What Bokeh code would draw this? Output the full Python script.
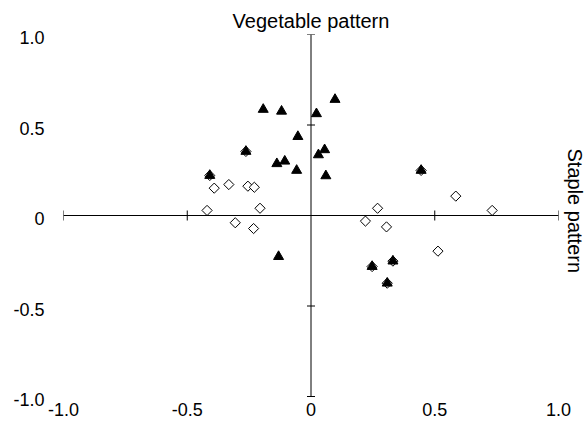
import math
from bokeh.plotting import figure
from bokeh.models import Range1d, FixedTicker, Span, Title, LinearAxis
from bokeh.embed import file_html
from bokeh.resources import INLINE

# Filled triangles (series 1)
tri_x = [-0.409, -0.263, -0.193, -0.119, 0.022, 0.097, -0.053, -0.138, -0.106,
         -0.058, 0.030, 0.055, 0.060, -0.131, 0.445, 0.247, 0.331, 0.308]
tri_y = [0.221, 0.354, 0.586, 0.576, 0.562, 0.641, 0.436, 0.286, 0.300,
         0.249, 0.335, 0.363, 0.219, -0.227, 0.249, -0.282, -0.252, -0.374]

# Open diamonds (series 2)
dia_x = [-0.409, -0.263, -0.391, -0.332, -0.255, -0.229, -0.420, -0.206, -0.306,
         -0.232, 0.445, 0.585, 0.269, 0.220, 0.305, 0.732, 0.513, 0.247, 0.331, 0.308]
dia_y = [0.221, 0.354, 0.151, 0.171, 0.162, 0.156, 0.028, 0.040, -0.040,
         -0.072, 0.249, 0.107, 0.040, -0.031, -0.063, 0.028, -0.197, -0.282, -0.252, -0.374]

tick_values = [-1.0, -0.5, 0.0, 0.5, 1.0]
tick_labels = ["-1.0", "-0.5", "0", "0.5", "1.0"]
cross_ticks = [-1.0, -0.5, 0.5, 1.0]

x_title = "Staple pattern"
y_title = "Vegetable pattern"

FONT = "Liberation Sans"

# y tick labels sit a few pixels below their tick values in the original
shift_px = 3
label_shift = shift_px / 181.0

p = figure(frame_width=495, frame_height=362 + shift_px,
           x_range=Range1d(-1, 1), y_range=Range1d(-1 - label_shift, 1),
           output_backend="svg", toolbar_location=None, y_axis_location=None,
           min_border_left=63, min_border_right=29, min_border_top=34,
           min_border_bottom=30 - shift_px)
p.outline_line_color = None
p.xgrid.visible = False
p.ygrid.visible = False
p.background_fill_color = "white"
p.border_fill_color = "white"

p.extra_y_ranges = {"ylab": Range1d(-1, 1 + label_shift)}
yax = LinearAxis(y_range_name="ylab")
p.add_layout(yax, "left")

overrides = {v: t for v, t in zip(tick_values, tick_labels)}
for ax in (p.xaxis[0], yax):
    ax.ticker = FixedTicker(ticks=tick_values)
    ax.major_label_overrides = overrides
    ax.axis_line_color = None
    ax.major_tick_line_color = None
    ax.minor_tick_line_color = None
    ax.major_tick_in = 0
    ax.major_tick_out = 0
    ax.major_label_text_font = FONT
    ax.major_label_text_font_size = "18px"
    ax.major_label_text_color = "black"
p.xaxis[0].major_label_standoff = 3
yax.major_label_standoff = 19

# crossing axes through the origin
p.add_layout(Span(location=0, dimension="width", line_color="black", line_width=1))
p.segment(x0=[0], x1=[0], y0=[tick_values[0]], y1=[tick_values[-1]],
          line_color="black", line_width=1)

# tick marks on the crossing axes
xt_half = 5 / 181.0
yt_half = 4 / 247.5
p.segment(x0=cross_ticks, x1=cross_ticks,
          y0=[-xt_half] * len(cross_ticks), y1=[xt_half] * len(cross_ticks),
          line_color="black", line_width=1)
p.segment(x0=[-yt_half] * len(cross_ticks), x1=[yt_half] * len(cross_ticks),
          y0=cross_ticks, y1=cross_ticks,
          line_color="black", line_width=1)

p.scatter(x=dia_x, y=dia_y, marker="square", angle=math.pi / 4, size=7.2,
          fill_color="white", line_color="black", line_width=1)
p.scatter(x=tri_x, y=tri_y, marker="triangle", size=10,
          fill_color="black", line_color="black", line_width=1)

p.add_layout(Title(text=y_title, align="center", text_font=FONT, text_font_size="20px",
                   text_font_style="normal", text_color="black", standoff=5), "above")
p.add_layout(Title(text=x_title, align="left", text_font=FONT, text_font_size="20px",
                   text_font_style="normal", text_color="black", standoff=11, offset=114), "right")

open("out.html", "w").write(file_html(p, INLINE))
